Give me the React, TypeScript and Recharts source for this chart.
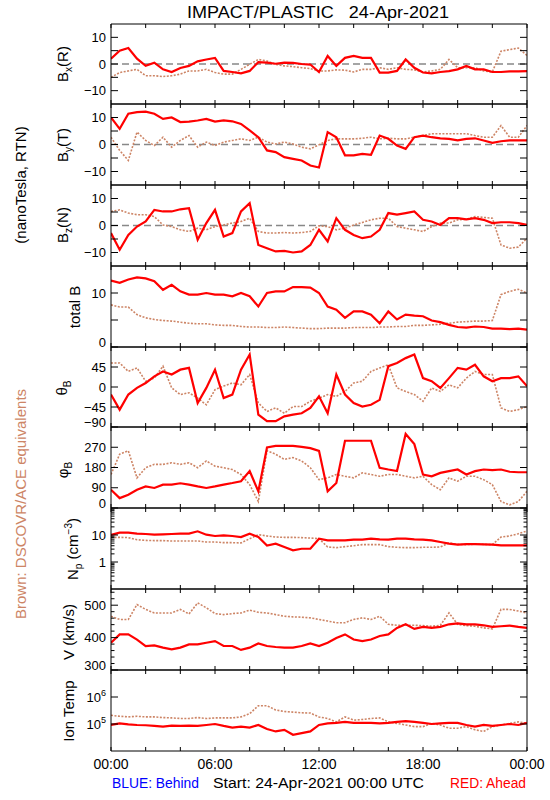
import React from 'react';
import { LineChart, Line, XAxis, YAxis, ReferenceLine } from 'recharts';

// time axis, hours since 24-Apr-2021 00:00 UTC
const hours = [0, 0.5, 1, 1.5, 2, 2.5, 3, 3.5, 4, 4.5, 5, 5.5, 6, 6.5, 7, 7.5, 8, 8.5, 9, 9.5, 10, 10.5, 11, 11.5, 12,
  12.5, 13, 13.5, 14, 14.5, 15, 15.5, 16, 16.5, 17, 17.5, 18, 18.5, 19, 19.5, 20, 20.5, 21, 21.5, 22, 22.5, 23, 23.5, 24];

// STEREO Ahead (red) and DSCOVR/ACE (brown)
const bxAhead = [2, 5, 6, 2, -0.7, 0.5, -2, -3, -1.5, -0.7, 1, 1.7, 2.3, -2.6, -3, -3.5, -2.6, 0.7, 0.5, 0.1, 0.5, 0.4, 0, -0.2, -3,
  3, -0.7, 2.3, 3, 2.3, 2.3, -3.2, -3.2, -2.6, 1.7, -1.4, -3.2, -3.5, -3, -2.7, -2, -0.7, -2, -2, -3, -3, -2.8, -2.8, -2.7];
const bxDscovr = [-5, -3.2, -2.6, -2, -4.4, -4.4, -4.7, -4.4, -3.8, -2.6, -2.6, -2, -3.2, -3.8, -3.8, -2, -0.1, 1.7, 1.1, -0.1, -0.7, -1, -1.4, -1.7, -2.6,
  -2.6, -2.2, -2.3, -3, -2, -2, -1.4, -2, -1.4, -2, -2.2, -3, -2.6, -2, 1.7, -1.4, -1.4, -1.4, -2.6, -3, 4.8, 5.4, 6, 3.2];

const byAhead = [10, 5.8, 11.4, 12, 12.2, 11.4, 9.5, 10, 8.3, 8.5, 8.9, 9.5, 8.5, 8.9, 8.6, 7.6, 5.2, 2.7, -2.2, -2.8, -4.7, -5.3, -5.9, -7.8, -8.5,
  4.6, 2.7, -4, -4, -3.5, -3.8, 3.3, 2.1, -0.4, -1.6, 2.7, 3.3, 2.7, 2.3, 2.1, 1.5, 2.1, 2.3, 1.5, 0.6, 1.2, 1.5, 1.5, 1.5];
const byDscovr = [2.7, -2.2, -5.9, 4.6, 1.5, -0.4, 2.7, -1, 1.5, 3.3, -1, 0.9, -0.4, 0.9, 1.5, 2.1, 1.5, 2.7, 0.9, 0.2, 0.9, 0.2, -1, -1.6, -0.1,
  1.5, 2.1, 2.1, 2.1, 2.3, 2.7, 2.1, 2.3, 2.1, 2.1, 2.7, 3.3, 4, 4, 4, 4, 4, 3.3, 2.7, 2.7, 7, 2.7, 2.7, 7];

const bzAhead = [-2.8, -9, -3.5, -0.4, 1.5, 5.8, 5.2, 5.2, 6, 6.4, -5.3, 0.9, 5.8, -4.1, -2.8, 5.2, 8.3, -7.2, -8.4, -9.6, -9.4, -10, -9.6, -7.2, -1.6,
  -5.9, 2.7, -1.6, -3.5, -4.7, -4.1, -1.6, 4.6, 4, 4.6, 5.2, 2.1, 1.5, 0.2, 2.7, 2.7, 2.3, 2.7, 2.1, 0.9, 1.2, 1.2, 0.9, 0.2];
const bzDscovr = [5.2, 5.8, 4.6, 4, 4, 3.3, 0.2, -0.4, -1.6, -2.2, -1, -1.6, -0.4, 0.2, 0.9, 1.5, 2.7, -2.2, -2.8, -2.8, -2.6, -2.8, -2.6, -2.2, -0.1,
  -0.4, -1.6, -1, 0.2, 1.1, 2.1, 2.7, 2.7, -0.4, -1, -1.6, -2.2, -0.4, 0.9, 0.9, 2.1, 2.3, 3.3, 3, 2.7, -7.2, -8.4, -8, -4.7];

const btAhead = [12.3, 11.9, 12.5, 12.9, 12.7, 12.2, 10.6, 11.5, 10.3, 9.7, 9.7, 10, 9.7, 9.7, 9.4, 10, 9.4, 7.5, 10, 10.3, 10.3, 11.1, 11.1, 11, 10,
  7.5, 6.9, 5.4, 6.6, 6.6, 6, 4.4, 6.6, 5.1, 6, 5.8, 5.7, 4.9, 4.6, 4.1, 3.7, 3.6, 3.8, 3.7, 3.4, 3.4, 3.3, 3.4, 3.2];
const btDscovr = [7.8, 7.4, 7.4, 6, 5.4, 5.1, 4.9, 4.8, 4.6, 4.4, 4.3, 4.3, 4.1, 4, 4, 3.8, 3.7, 3.7, 3.6, 3.6, 3.7, 3.6, 3.5, 3.4, 3.4,
  3.5, 3.5, 3.5, 3.6, 3.6, 3.6, 3.7, 3.7, 3.8, 3.8, 4, 4, 4.1, 4.2, 4.4, 4.6, 4.7, 4.8, 4.8, 4.9, 9.7, 10.3, 10.7, 10];

const thetaAhead = [-17, -51, -17, -2, 9, 24, 35, 28, 39, 43, -36, -2, 39, -25, -17, 39, 73, -62, -77, -77, -66, -62, -59, -47, -21,
  -59, 28, -17, -36, -44, -40, -29, 47, 54, 65, 73, 20, 13, -2, 20, 43, 39, 50, 24, 13, 20, 20, 24, 2];
const thetaDscovr = [54, 54, 35, 43, 13, 20, 47, -2, -17, -13, -25, -40, -6, 2, 9, 5, 28, -36, -55, -47, -59, -44, -44, -32, -25,
  -17, -21, -10, 9, 13, 35, 43, 50, -2, -10, -17, -32, -2, -10, 5, -2, 20, 35, 28, 28, -47, -55, -51, -44];

const phiAhead = [81, 44, 59, 81, 96, 89, 104, 104, 110, 104, 96, 89, 96, 104, 111, 119, 164, 74, 269, 276, 276, 276, 272, 266, 254,
  74, 111, 299, 299, 299, 299, 179, 171, 164, 329, 284, 149, 141, 156, 164, 171, 149, 164, 171, 168, 171, 161, 159, 159];
const phiDscovr = [149, 239, 254, 134, 179, 194, 194, 201, 194, 201, 179, 209, 186, 179, 171, 149, 104, 29, 254, 239, 216, 224, 209, 179, 126,
  134, 149, 141, 134, 156, 149, 141, 149, 149, 141, 134, 141, 104, 81, 134, 119, 141, 141, 126, 104, 29, 14, 29, 74];

const npAhead = [10, 12.2, 12.2, 11.2, 10.9, 10.3, 10.6, 10.9, 11.2, 11.2, 13.7, 10.3, 9.2, 9.7, 9.2, 8.4, 11.2, 8.4, 4.1, 4.8, 3.6, 2.7, 3.1, 3.1, 7.3,
  6.3, 6.3, 6.3, 6.7, 6.7, 7.3, 6.9, 6.7, 7.3, 7.3, 6.9, 6.7, 6.3, 5.5, 4.8, 4.4, 4.6, 4.6, 4.5, 4.4, 4.1, 4.1, 4.1, 4.1];
const npDscovr = [8.2, 8.2, 8, 6.7, 6.3, 6.2, 6.2, 6, 6, 6, 6, 5.5, 5.5, 5.2, 5.2, 5.1, 7.3, 10.3, 9.2, 8.4, 8.2, 8.2, 8, 7.7, 7.3,
  3.6, 3.4, 3.7, 4, 4.4, 4.4, 4.4, 3.7, 3.5, 3.4, 3.4, 3.5, 3.5, 3.6, 5.1, 4.5, 4.4, 4.6, 4.5, 4.4, 8.4, 9.2, 11.2, 14.1];

const vAhead = [384, 410, 410, 394, 374, 376, 369, 364, 369, 379, 379, 384, 389, 374, 374, 362, 369, 382, 374, 371, 369, 369, 374, 382, 374,
  384, 399, 410, 394, 389, 394, 405, 410, 430, 441, 427, 433, 430, 433, 441, 444, 441, 441, 438, 433, 435, 437, 433, 430];
const vDscovr = [466, 456, 456, 502, 487, 476, 476, 476, 487, 473, 507, 492, 474, 471, 474, 476, 485, 478, 476, 471, 466, 464, 463, 461, 456,
  451, 446, 446, 456, 461, 456, 466, 441, 438, 438, 438, 437, 435, 438, 476, 441, 437, 435, 430, 427, 487, 487, 482, 476];

const tempAhead = [92000, 105000, 97000, 92000, 90000, 85000, 80000, 87000, 85000, 87000, 85000, 92000, 100000, 85000, 74000, 80000, 74000,
  92000, 65000, 53000, 61000, 40000, 46000, 53000, 92000, 105000, 110000, 120000, 110000, 110000, 110000, 105000, 110000, 120000, 128000,
  120000, 110000, 100000, 105000, 110000, 110000, 92000, 80000, 92000, 85000, 92000, 100000, 92000, 110000];
const tempDscovr = [210000, 193000, 183000, 193000, 183000, 183000, 173000, 168000, 160000, 160000, 173000, 160000, 168000, 168000, 168000,
  183000, 240000, 477000, 477000, 330000, 290000, 276000, 260000, 254000, 183000, 160000, 120000, 183000, 139000, 147000, 160000, 168000,
  120000, 105000, 92000, 80000, 80000, 105000, 92000, 70000, 70000, 80000, 61000, 53000, 80000, 92000, 105000, 120000, 105000];

// ticks: null = minor tick, '' = major tick without label
const xTicks = [0, 2, 4, 6, 8, 10, 12, 14, 16, 18, 20, 22, 24];
const xTickLabels = ['00:00', null, null, '06:00', null, null, '12:00', null, null, '18:00', null, null, '00:00'];
const bTicks = [-10, -5, 0, 5, 10];
const bTickLabels = ['−10', '', '0', '', '10'];
const btTicks = [0, 5, 10];
const btTickLabels = ['0', '', '10'];
const thetaTicks = [-90, -45, 0, 45];
const thetaTickLabels = ['−90', '−45', '0', '45'];
const phiTicks = [0, 90, 180, 270];
const phiTickLabels = ['0', '90', '180', '270'];
const npTicks = [0.2, 0.3, 0.4, 0.5, 0.6, 0.7, 0.8, 0.9, 1, 2, 3, 4, 5, 6, 7, 8, 9, 10, 20, 30, 40, 50, 60, 70, 80, 90];
const npTickLabels = [null, null, null, null, null, null, null, null, '1', null, null, null, null, null, null, null, null, '10',
  null, null, null, null, null, null, null, null];
const vTicks = [300, 320, 340, 360, 380, 400, 420, 440, 460, 480, 500, 520, 540];
const vTickLabels = ['300', null, null, null, null, '400', null, null, null, null, '500', null, null];
const tempTicks = [100000, 1000000];
const tempTickLabels = ['10^5', '10^6'];

const RED = '#ff0000';
const BROWN = '#cd8566';
const PLOT_LEFT = 111;
const PLOT_RIGHT = 527;
const CHART_W = 550;

const TickText = ({ x, y, text }: { x: number; y: number; text: string }) => {
  const [base, pow] = text.split('^');
  return (
    <text x={x} y={y} dy={4.5} textAnchor="end" fontSize={13} fill="#000">
      {base}
      {pow ? <tspan dy={-6} fontSize={9}>{pow}</tspan> : null}
    </text>
  );
};

const labelOf = (ticks: number[], labels: (string | null)[], v: number) => {
  const i = ticks.indexOf(v);
  return i >= 0 ? labels[i] : null;
};

// labels sitting on the bottom frame are nudged up so they stay inside the panel
const leftTick = (ticks: number[], labels: (string | null)[], plotBottom: number) => (p: any) => {
  const lab = labelOf(ticks, labels, p.payload.value);
  const len = lab === null ? 3.5 : 7;
  return (
    <g>
      <line x1={p.x} x2={p.x + len} y1={p.y} y2={p.y} stroke="#000" />
      {lab ? <TickText x={p.x - 5} y={Math.min(p.y, plotBottom - 5)} text={lab} /> : null}
    </g>
  );
};

const rightTick = (ticks: number[], labels: (string | null)[]) => (p: any) => {
  const lab = labelOf(ticks, labels, p.payload.value);
  const len = lab === null ? 3.5 : 7;
  return <line x1={p.x - len} x2={p.x} y1={p.y} y2={p.y} stroke="#000" />;
};

const bottomTick = (showLabels: boolean) => (p: any) => {
  const lab = labelOf(xTicks, xTickLabels, p.payload.value);
  return (
    <g>
      <line x1={p.x} x2={p.x} y1={p.y} y2={p.y - 4} stroke="#000" />
      {showLabels && lab ? (
        <text x={p.x} y={p.y + 18} textAnchor="middle" fontSize={14} fill="#000">{lab}</text>
      ) : null}
    </g>
  );
};

const topTick = (p: any) => <line x1={p.x} x2={p.x} y1={p.y} y2={p.y + 4} stroke="#000" />;

interface PanelProps {
  top: number;
  height: number;
  ahead: number[];
  dscovr: number[];
  domain: [number, number];
  scale?: 'linear' | 'log';
  ticks: number[];
  tickLabels: (string | null)[];
  zeroLine?: boolean;
  last?: boolean;
}

const Panel: React.FC<PanelProps> = ({ top, height, ahead, dscovr, domain, scale = 'linear', ticks, tickLabels, zeroLine, last }) => {
  const rows = hours.map((t, i) => ({ t, a: ahead[i], d: dscovr[i] }));
  const bottomH = last ? 34 : 1;
  return (
    <div style={{ position: 'absolute', left: 0, top: top - 1 }}>
      <LineChart width={CHART_W} height={height + 1 + bottomH} data={rows} margin={{ top: 0, right: 0, bottom: 0, left: 0 }}>
        <XAxis xAxisId="b" dataKey="t" type="number" domain={[0, 24]} ticks={xTicks} interval={0} height={bottomH}
          tickSize={0} tickMargin={0} tickLine={false} stroke="#000" allowDataOverflow tick={bottomTick(!!last)} />
        <XAxis xAxisId="t" orientation="top" dataKey="t" type="number" domain={[0, 24]} ticks={xTicks} interval={0} height={1}
          tickSize={0} tickMargin={0} tickLine={false} stroke="#000" allowDataOverflow tick={topTick} />
        <YAxis yAxisId="l" width={PLOT_LEFT} type="number" scale={scale} domain={domain} ticks={ticks} interval={0}
          tickSize={0} tickMargin={0} tickLine={false} stroke="#000" allowDataOverflow tick={leftTick(ticks, tickLabels, height + 1)} />
        <YAxis yAxisId="r" orientation="right" width={CHART_W - PLOT_RIGHT} type="number" scale={scale} domain={domain} ticks={ticks}
          interval={0} tickSize={0} tickMargin={0} tickLine={false} stroke="#000" allowDataOverflow tick={rightTick(ticks, tickLabels)} />
        {zeroLine && (
          <ReferenceLine xAxisId="b" yAxisId="l" y={0} stroke="#888888" strokeWidth={1.5} strokeDasharray="7 4" />
        )}
        <Line xAxisId="b" yAxisId="l" type="linear" dataKey="d" stroke={BROWN} strokeWidth={1.6} strokeDasharray="2 1.5"
          dot={false} isAnimationActive={false} />
        <Line xAxisId="b" yAxisId="l" type="linear" dataKey="a" stroke={RED} strokeWidth={2.2}
          dot={false} isAnimationActive={false} />
      </LineChart>
    </div>
  );
};

const VText: React.FC<{ x: number; y: number; color?: string; children: React.ReactNode }> = ({ x, y, color = '#000', children }) => (
  <text transform={`translate(${x},${y}) rotate(-90)`} textAnchor="middle" fontSize={15} fill={color}>{children}</text>
);

export default function App() {
  return (
    <div style={{ position: 'absolute', left: 0, top: 0, width: 550, height: 800, background: '#fff',
      fontFamily: '"Liberation Sans", Arial, sans-serif' }}>
      <Panel top={24} height={80} ahead={bxAhead} dscovr={bxDscovr} domain={[-15, 15]} ticks={bTicks} tickLabels={bTickLabels} zeroLine />
      <Panel top={104} height={81} ahead={byAhead} dscovr={byDscovr} domain={[-15, 15]} ticks={bTicks} tickLabels={bTickLabels} zeroLine />
      <Panel top={185} height={81} ahead={bzAhead} dscovr={bzDscovr} domain={[-15, 15]} ticks={bTicks} tickLabels={bTickLabels} zeroLine />
      <Panel top={266} height={81} ahead={btAhead} dscovr={btDscovr} domain={[0, 15]} ticks={btTicks} tickLabels={btTickLabels} />
      <Panel top={347} height={80} ahead={thetaAhead} dscovr={thetaDscovr} domain={[-90, 90]} ticks={thetaTicks} tickLabels={thetaTickLabels} />
      <Panel top={427} height={81} ahead={phiAhead} dscovr={phiDscovr} domain={[0, 360]} ticks={phiTicks} tickLabels={phiTickLabels} />
      <Panel top={508} height={81} ahead={npAhead} dscovr={npDscovr} domain={[0.1, 100]} scale="log" ticks={npTicks} tickLabels={npTickLabels} />
      <Panel top={589} height={81} ahead={vAhead} dscovr={vDscovr} domain={[300, 550]} ticks={vTicks} tickLabels={vTickLabels} />
      <Panel top={670} height={81} ahead={tempAhead} dscovr={tempDscovr} domain={[10000, 10000000]} scale="log" ticks={tempTicks}
        tickLabels={tempTickLabels} last />

      <svg width={550} height={800} style={{ position: 'absolute', left: 0, top: 0, pointerEvents: 'none' }}
        fontFamily='"Liberation Sans", Arial, sans-serif'>
        <text x={318} y={17.5} textAnchor="middle" fontSize={16} fill="#000" style={{ whiteSpace: 'pre' }}
          textLength={262} lengthAdjust="spacingAndGlyphs">IMPACT/PLASTIC   24-Apr-2021</text>

        <VText x={68} y={64}>B<tspan fontSize={10} dy={4}>x</tspan><tspan dy={-4}>(R)</tspan></VText>
        <VText x={68} y={145}>B<tspan fontSize={10} dy={4}>y</tspan><tspan dy={-4}>(T)</tspan></VText>
        <VText x={68} y={225}>B<tspan fontSize={10} dy={4}>z</tspan><tspan dy={-4}>(N)</tspan></VText>
        <VText x={80} y={307}>total B</VText>
        <VText x={67} y={388}>θ<tspan fontSize={10} dy={4}>B</tspan></VText>
        <VText x={68} y={470}>φ<tspan fontSize={10} dy={4}>B</tspan></VText>
        <VText x={78} y={549}>N<tspan fontSize={10} dy={4}>p</tspan><tspan dy={-4}> (cm</tspan><tspan fontSize={10} dy={-6}>−3</tspan><tspan dy={6}>)</tspan></VText>
        <VText x={74} y={632}>V (km/s)</VText>
        <VText x={74} y={711}>Ion Temp</VText>

        <VText x={26} y={185}>(nanoTesla, RTN)</VText>
        <VText x={26} y={504} color={BROWN}>Brown: DSCOVR/ACE equivalents</VText>

        <text x={112} y={787.5} fontSize={14} fill="#0000ff" textLength={87} lengthAdjust="spacingAndGlyphs">BLUE: Behind</text>
        <text x={213} y={787.5} fontSize={14} fill="#000" textLength={211} lengthAdjust="spacingAndGlyphs">Start: 24-Apr-2021 00:00 UTC</text>
        <text x={450} y={787.5} fontSize={14} fill="#ff0000" textLength={76} lengthAdjust="spacingAndGlyphs">RED: Ahead</text>
      </svg>
    </div>
  );
}
